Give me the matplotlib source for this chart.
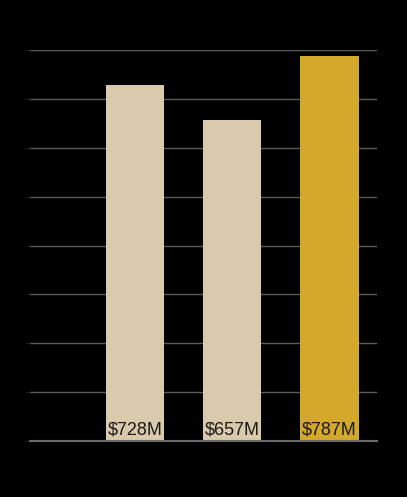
import matplotlib.pyplot as plt
import numpy as np

plt.rcParams['font.family'] = ['Liberation Sans', 'DejaVu Sans']

# valores de cada barra (millones de dolares)
labels = ['$728M', '$657M', '$787M']
values = [728, 657, 787]
colors = ['#d8caab', '#d8caab', '#d4a82a']
yticks = [0, 100, 200, 300, 400, 500, 600, 700, 800]

fig = plt.figure(figsize=(4.07, 4.97), dpi=100, facecolor='black')
ax = fig.add_axes([30/407, 56/497, 347/407, 391/497], facecolor='black')

x = np.arange(len(values))
ax.bar(x, values, width=0.6, color=colors, zorder=2)

for xi, lab in zip(x, labels):
    ax.text(xi, 5, lab, ha='center', va='bottom', fontsize=13, color='#1a1a1a', zorder=3)

ax.set_xlim(-1.08, 2.49)
ax.set_ylim(0, 800)
ax.set_yticks(yticks)
ax.set_yticklabels(['' for _ in yticks])
ax.tick_params(axis='y', length=3, color='#222222')
ax.set_xticks([])
ax.grid(axis='y', color='#5a5a5a', linewidth=1, zorder=1)
for s in ['top', 'right', 'left']:
    ax.spines[s].set_visible(False)
ax.spines['bottom'].set_color('#6a6a6a')
ax.spines['bottom'].set_linewidth(1.5)
ax.spines['bottom'].set_zorder(4)

fig.savefig('out.png', dpi=100, facecolor='black')
